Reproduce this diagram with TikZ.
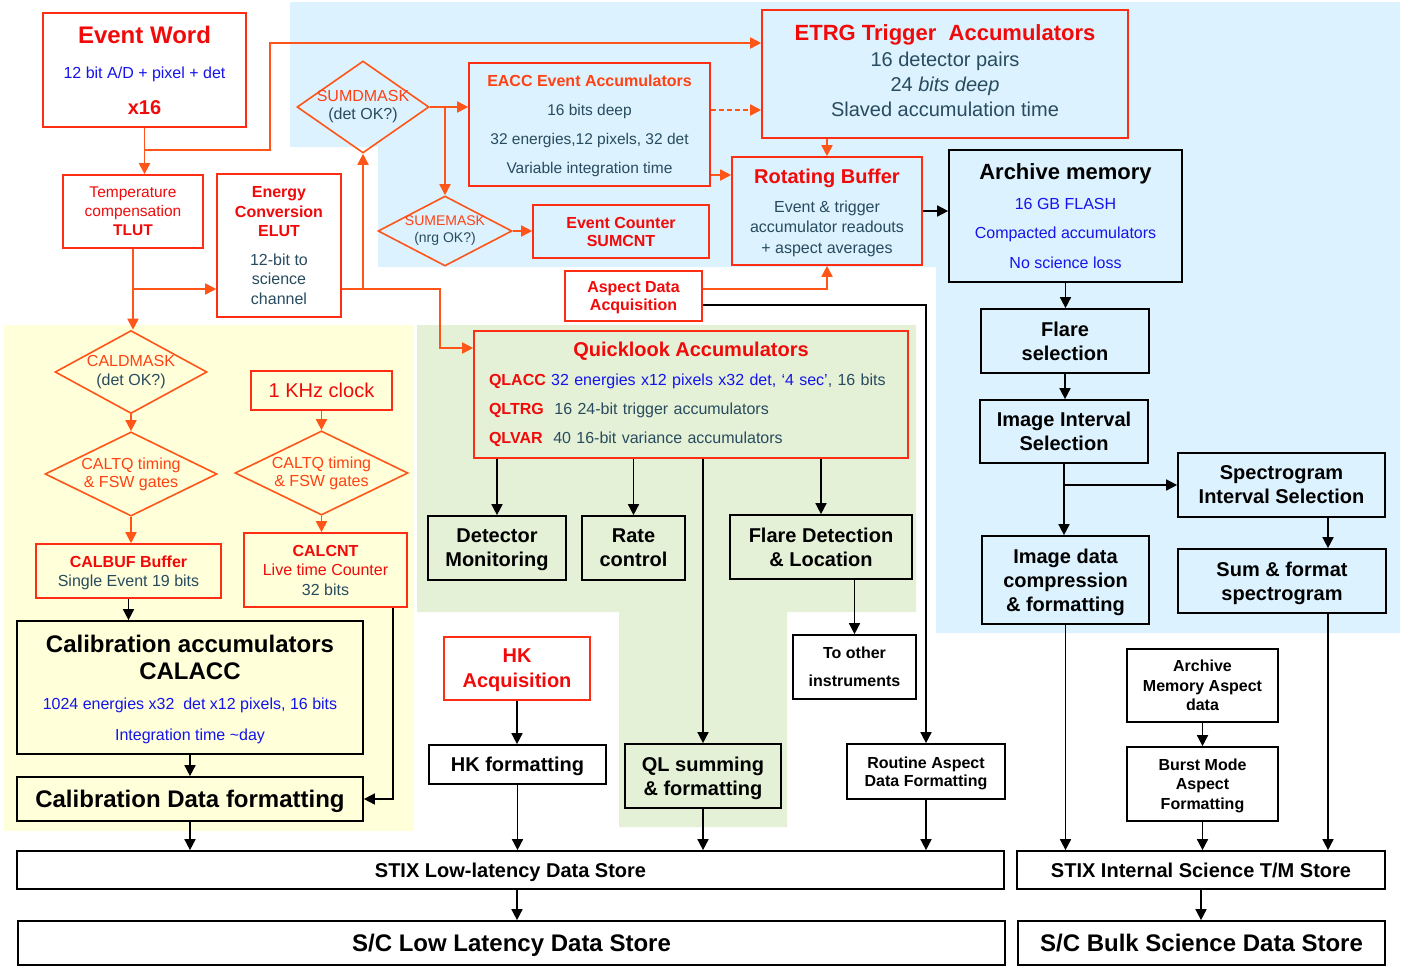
\documentclass[tikz,border=0pt]{standalone}
\usepackage{fontspec}
\setmainfont{Liberation Sans}
\usepackage{tikz}
\usetikzlibrary{arrows.meta,shapes.geometric,positioning}

\definecolor{boxred}{RGB}{255,45,20}
\definecolor{lorange}{RGB}{255,85,25}
\definecolor{textred}{RGB}{240,10,10}
\definecolor{torange}{RGB}{255,65,20}
\definecolor{textteal}{RGB}{40,75,95}
\definecolor{textblue}{RGB}{20,20,235}
\definecolor{bgblue}{RGB}{220,242,254}
\definecolor{bgyellow}{RGB}{255,255,218}
\definecolor{bggreen}{RGB}{228,241,214}

\newcommand{\fsz}[2]{\fontsize{#1}{#2}\selectfont}

\begin{document}
\begin{tikzpicture}[
    x=1pt, y=-1pt,
    >={Triangle[length=11pt,width=11pt]},
    dims/.style 2 args={minimum width=#1, minimum height=#2},
    frame/.style={
        rectangle,
        draw=boxred,
        line width=1.6pt,
        inner sep=0pt,
        text=textred
    },
    unit/.style={
        frame,
        text depth=0pt,
        align=center
    },
    proc/.style={
        rectangle,
        draw=black,
        line width=1.7pt,
        inner sep=0pt,
        text depth=0pt,
        align=center,
        text=black,
        font=\fsz{20}{24}\bfseries
    },
    gate/.style={
        diamond,
        draw=lorange,
        line width=1.6pt,
        inner sep=-12pt,
        align=center,
        text=textteal
    },
    oline/.style={draw=lorange, line width=1.8pt},
    kline/.style={draw=black, line width=1.6pt}
  ]

\useasboundingbox (0,0) rectangle (1407,967);

% // background areas
\fill [bgblue] (290,2) -- (1400,2) -- (1400,633) -- (936,633) -- (936,267)
  -- (378,267) -- (378,147) -- (290,147) -- cycle;
\fill [bgyellow] (4,325) rectangle (414,831);
\fill [bggreen] (417,325) -- (916,325) -- (916,612) -- (787,612) -- (787,827)
  -- (619,827) -- (619,612) -- (417,612) -- cycle;

% // event path
\node [unit, dims={203}{114}, font=\fsz{16}{35.5}] (evword) at (144.5,70) {%
  {\fsz{24}{28}\bfseries Event Word}\\
  {\color{textblue}12 bit A/D + pixel + det}\\
  {\fsz{20}{24}\bfseries x16}};
\node [unit, dims={140}{73}, font=\fsz{15.5}{19}] (tlut) at (133,211.5)
  {Temperature\\compensation\\\textbf{TLUT}};
\node [unit, dims={124}{143}, font=\fsz{16}{19.5}, text=textteal] (elut) at (279,245.5) {%
  {\bfseries\color{textred}Energy}\\
  {\bfseries\color{textred}Conversion}\\
  {\bfseries\color{textred}ELUT}\\[9pt]
  12-bit to\\ science\\ channel};

\node [gate, dims={132}{92}, font=\fsz{16}{18}] (sumd) at (363,107)
  {{\color{torange}SUMDMASK}\\(det OK?)};
\node [gate, dims={134}{70}, font=\fsz{14}{17}] (sume) at (445,231)
  {{\color{torange}SUMEMASK}\\(nrg OK?)};

\node [unit, dims={241}{123}, font=\fsz{15.5}{29}, text=textteal] (eacc) at (589.5,124.5) {%
  {\fsz{16}{29}\bfseries\color{torange}EACC Event Accumulators}\\
  16 bits deep\\
  32 energies,12 pixels, 32 det\\
  Variable integration time};
\node [unit, dims={176}{53}, font=\fsz{16}{18}\bfseries] (sumcnt) at (621,231.5)
  {Event Counter\\SUMCNT};

\node [unit, dims={366}{128}, font=\fsz{20}{25}, text=textteal, text depth=7pt] (etrg) at (945,74) {%
  {\fsz{22}{26}\bfseries\color{textred}ETRG Trigger\ \ Accumulators}\\[1pt]
  16 detector pairs\\
  24 \textit{bits deep}\\
  Slaved accumulation time};
\node [unit, dims={190}{108}, font=\fsz{16}{20.5}, text=textteal] (rotbuf) at (827,211) {%
  {\fsz{20}{24}\bfseries\color{textred}Rotating Buffer}\\[8pt]
  Event \& trigger\\
  accumulator readouts\\
  + aspect averages};
\node [unit, dims={137}{50}, font=\fsz{16}{18}\bfseries] (aspacq) at (633.5,296)
  {Aspect Data\\Acquisition};

% // archive chain
\node [proc, dims={233}{132}, font=\fsz{16}{29.5}, text=textblue] (archmem) at (1065.5,216) {%
  {\fsz{22}{26}\bfseries\color{black}Archive memory}\\
  16 GB FLASH\\
  Compacted accumulators\\
  No science loss};
\node [proc, dims={168}{64}] (flare) at (1065,341) {Flare\\selection};
\node [proc, dims={168}{63}] (imgint) at (1064,431.5) {Image Interval\\Selection};
\node [proc, dims={207}{64}] (specint) at (1281.5,485) {Spectrogram\\Interval Selection};
\node [proc, dims={167}{88}] (imgdata) at (1065.5,580) {Image data\\compression\\\& formatting};
\node [proc, dims={208}{64}] (sumspec) at (1282,581) {Sum \& format\\spectrogram};

% // calibration
\node [gate, dims={152}{83}, font=\fsz{16}{19}] (caldm) at (131,372)
  {{\color{torange}CALDMASK}\\(det OK?)};
\node [unit, dims={141}{39}, font=\fsz{20}{24}] (clock) at (321.5,390.5) {1 KHz clock};
\node [gate, dims={172}{74}, font=\fsz{16}{18}, text=torange] (caltqA) at (131,474)
  {CALTQ timing\\\& FSW gates};
\node [gate, dims={173}{74}, font=\fsz{16}{18}, text=torange] (caltqB) at (321.5,473)
  {CALTQ timing\\\& FSW gates};
\node [unit, dims={185}{54}, font=\fsz{16}{19}, text=textteal] (calbuf) at (128.5,571)
  {{\bfseries\color{textred}CALBUF Buffer}\\Single Event 19 bits};
\node [unit, dims={163}{74}, font=\fsz{16}{19.5}] (calcnt) at (325.5,570)
  {\textbf{CALCNT}\\Live time Counter\\{\color{textteal}32 bits}};
\node [proc, dims={346}{133}, font=\fsz{16}{31}, text=textblue] (calacc) at (190,687.5) {%
  {\fsz{24}{27}\bfseries\color{black}Calibration accumulators}\\[-4pt]
  {\fsz{24}{27}\bfseries\color{black}CALACC}\\[-1pt]
  1024 energies x32\ \ det x12 pixels, 16 bits\\
  Integration time \textasciitilde{}day};
\node [proc, dims={346}{44}, font=\fsz{24}{28}\bfseries] (caldata) at (190,799)
  {Calibration Data formatting};

% // quicklook
\node [frame, dims={434}{127}, text width=404pt, align=left, font=\fsz{16}{29}, text=textteal]
  (qlacc) at (691,394.5) {%
  \makebox[404pt]{\fsz{20}{24}\bfseries\color{textred}Quicklook Accumulators}\\
  {\bfseries\color{textred}QLACC} {\color{textblue}32 energies x12 pixels x32 det, ‘4 sec’}, 16 bits\\
  {\bfseries\color{textred}QLTRG}\ \ 16 24-bit trigger accumulators\\
  {\bfseries\color{textred}QLVAR}\ \ 40 16-bit variance accumulators};
\node [proc, dims={138}{64}] (detmon) at (497,548) {Detector\\Monitoring};
\node [proc, dims={103}{64}] (ratectl) at (633.5,548) {Rate\\control};
\node [proc, dims={182}{64}] (flaredet) at (821,547) {Flare Detection\\\& Location};
\node [proc, dims={123}{64}, font=\fsz{16}{28}\bfseries] (toother) at (854.5,667)
  {To other\\instruments};

% // formatting
\node [unit, dims={146}{63}, font=\fsz{20}{25}\bfseries] (hkacq) at (517,668.5) {HK\\Acquisition};
\node [proc, dims={177}{39}] (hkfmt) at (517.5,764.5) {HK formatting};
\node [proc, dims={156}{64}] (qlsum) at (703,776) {QL summing\\\& formatting};
\node [proc, dims={158}{55}, font=\fsz{16}{18}\bfseries] (routasp) at (926,771.5)
  {Routine Aspect\\Data Formatting};
\node [proc, dims={151}{73}, font=\fsz{16}{19.5}\bfseries] (amasp) at (1202.5,685.5)
  {Archive\\Memory Aspect\\data};
\node [proc, dims={151}{74}, font=\fsz{16}{19.5}\bfseries] (burst) at (1202.5,784)
  {Burst Mode\\Aspect\\Formatting};

% // stores
\node [proc, dims={987}{38}] (stixll) at (510.5,870) {STIX Low-latency Data Store};
\node [proc, dims={368}{38}] (stixint) at (1201,870) {STIX Internal Science T/M Store};
\node [proc, dims={987}{44}, font=\fsz{24}{28}\bfseries] (scll) at (511.5,943) {S/C Low Latency Data Store};
\node [proc, dims={367}{44}, font=\fsz{24}{28}\bfseries] (scbulk) at (1201.5,943) {S/C Bulk Science Data Store};

% // orange paths
\draw [oline, ->] (evword.south) -- (evword.south |- tlut.north);
\draw [oline, ->] (evword.south |- 0,150) -| (270,43) -- (etrg.west |- 0,43);
\draw [oline, ->] (tlut.south) -- (tlut.south |- caldm.north);
\draw [oline, ->] (tlut.south |- 0,289) -- (elut.west |- 0,289);
\draw [oline, ->] (elut.east |- 0,289) -| (sumd.south);
\draw [oline, ->] (sumd.south |- 0,289) -| (440,348) -- (qlacc.west |- 0,348);
\draw [oline, ->] (sumd.east) -- (sumd.east -| eacc.west);
\draw [oline, ->] (sumd.east -| sume.north) -- (sume.north);
\draw [oline, ->] (sume.east) -- (sume.east -| sumcnt.west);
\draw [oline, dashed, dash pattern=on 5pt off 3pt, ->] (eacc.east |- 0,110) -- (etrg.west |- 0,110);
\draw [oline, ->] (eacc.east |- 0,175) -- (rotbuf.west |- 0,175);
\draw [oline, ->] (rotbuf.north |- etrg.south) -- (rotbuf.north);
\draw [oline, ->] (aspacq.east |- 0,289) -| (rotbuf.south);
\draw [oline, ->] (caldm.south) -- (caltqA.north);
\draw [oline, ->] (caltqA.south) -- (caltqA.south |- calbuf.north);
\draw [oline, ->] (clock.south) -- (clock.south |- caltqB.north);
\draw [oline, ->] (caltqB.south) -- (caltqB.south |- calcnt.north);

% // black paths
\draw [kline, ->] (rotbuf.east) -- (rotbuf.east -| archmem.west);
\draw [kline, ->] (aspacq.east |- 0,305) -| (routasp.north);
\draw [kline, ->] (archmem.south) -- (archmem.south |- flare.north);
\draw [kline, ->] (flare.south) -- (flare.south |- imgint.north);
\draw [kline, ->] (imgint.south) -- (imgint.south |- imgdata.north);
\draw [kline, ->] (imgint.south |- specint.west) -- (specint.west);
\draw [kline, ->] (specint.south -| 1328,0) -- (sumspec.north -| 1328,0);
\draw [kline, ->] (imgdata.south) -- (imgdata.south |- stixint.north);
\draw [kline, ->] (sumspec.south -| 1328,0) -- (stixint.north -| 1328,0);
\draw [kline, ->] (amasp.south) -- (burst.north);
\draw [kline, ->] (burst.south) -- (burst.south |- stixint.north);
\draw [kline, ->] (stixint.south) -- (stixint.south |- scbulk.north);
\draw [kline, ->] (stixll.south -| 517,0) -- (scll.north -| 517,0);

\draw [kline, ->] (calbuf.south) -- (calbuf.south |- calacc.north);
\draw [kline, ->] (calacc.south) -- (calacc.south |- caldata.north);
\draw [kline, ->] (calcnt.south -| 393,0) |- (caldata.east);
\draw [kline, ->] (caldata.south) -- (caldata.south |- stixll.north);

\draw [kline, ->] (qlacc.south -| detmon.north) -- (detmon.north);
\draw [kline, ->] (qlacc.south -| ratectl.north) -- (ratectl.north);
\draw [kline, ->] (qlacc.south -| flaredet.north) -- (flaredet.north);
\draw [kline, ->] (qlacc.south -| qlsum.north) -- (qlsum.north);
\draw [kline, ->] (flaredet.south -| toother.north) -- (toother.north);
\draw [kline, ->] (hkacq.south) -- (hkacq.south |- hkfmt.north);
\draw [kline, ->] (hkfmt.south) -- (hkfmt.south |- stixll.north);
\draw [kline, ->] (qlsum.south) -- (qlsum.south |- stixll.north);
\draw [kline, ->] (routasp.south) -- (routasp.south |- stixll.north);

\end{tikzpicture}
\end{document}
